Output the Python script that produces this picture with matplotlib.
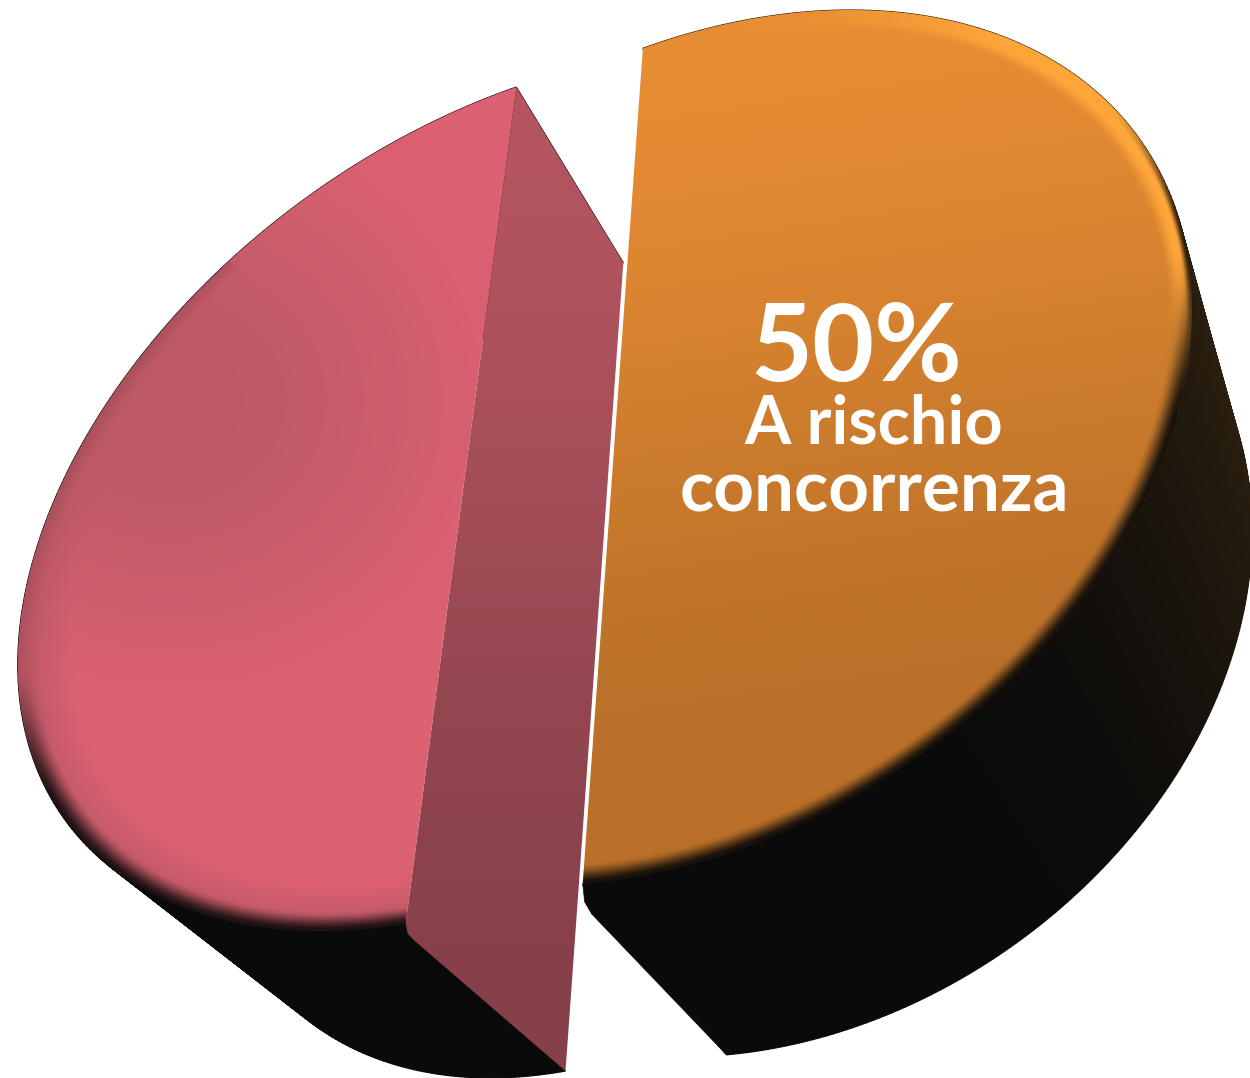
import numpy as np
import matplotlib
matplotlib.use("Agg")
import matplotlib.pyplot as plt
from matplotlib.colors import to_rgb
from matplotlib.patches import Polygon

# valori delle due fette
shares = [50, 50]
slice_names = ["A rischio\nconcorrenza", ""]
percent_label = "50%"

W, H = 1250, 1078

# geometria della torta in prospettiva (pixel)
orange_geo = dict(c=(693, 448), a=543.1, b=381.9, rot=-33.75, start=-70.6, stretch=1.103,
                  shift=(792, 632), kx=0.944, ky=0.97, shear=0.0887)
pink_geo = dict(c=(517, 491), a=559, b=361, rot=-36.1, start=128.1, stretch=0.928,
                shift=(643, 653), kx=0.88, ky=0.966, shear=0.0473)


def rim(geo, share):
    # bordo superiore della fetta, l'angolo viene dal valore
    sweep = share / sum(shares) * 360 * geo["stretch"]
    s = np.radians(np.linspace(geo["start"], geo["start"] + sweep, 240))
    th = np.radians(geo["rot"])
    u, v = geo["a"] * np.cos(s), geo["b"] * np.sin(s)
    x = geo["c"][0] + u * np.cos(th) - v * np.sin(th)
    y = geo["c"][1] + u * np.sin(th) + v * np.cos(th)
    return x, y, np.degrees(s)


def lower(geo, x, y):
    # stesso bordo, spostato in basso per lo spessore
    dx, dy = x - geo["c"][0], y - geo["c"][1]
    return geo["shift"][0] + geo["kx"] * dx + geo["shear"] * dy, geo["shift"][1] + geo["ky"] * dy


def ellipse_coords(geo):
    gx, gy = np.meshgrid(np.arange(W) + 0.5, np.arange(H) + 0.5)
    th = np.radians(geo["rot"])
    dx, dy = gx - geo["c"][0], gy - geo["c"][1]
    u = (dx * np.cos(th) + dy * np.sin(th)) / geo["a"]
    v = (-dx * np.sin(th) + dy * np.cos(th)) / geo["b"]
    return gx, gy, np.hypot(u, v), np.degrees(np.arctan2(v, u))


def smooth(e0, e1, t):
    t = np.clip((t - e0) / (e1 - e0), 0, 1)
    return t * t * (3 - 2 * t)


def mix(a, b, w):
    return a * (1 - w[..., None]) + b * w[..., None]


def col(name):
    return np.array(to_rgb(name))


def flat(name):
    return np.full((H, W, 3), col(name))


def draw_side(ax, x, y, xb, yb, colors):
    for i in range(len(x) - 1):
        ax.fill([x[i], x[i + 1], xb[i + 1], xb[i]], [y[i], y[i + 1], yb[i + 1], yb[i]],
                color=colors[i], lw=0.8)


fig = plt.figure(figsize=(W / 100, H / 100), dpi=100, facecolor="white")
ax = fig.add_axes([0, 0, 1, 1])

ox, oy, os_ = rim(orange_geo, shares[0])
px, py, ps_ = rim(pink_geo, shares[1])
oxb, oyb = lower(orange_geo, ox, oy)
pxb, pyb = lower(pink_geo, px, py)

# fianco arancione: marrone in alto a destra, nero verso il basso
w = smooth(5, 90, os_)
side_cols = [col("#2c200f") * (1 - t) + col("#0a0a0a") * t for t in w]
draw_side(ax, ox, oy, oxb, oyb, side_cols)
# spigolo arrotondato in basso
ax.fill([ox[-1], ox[-1] + 2, ox[-1] + 9, oxb[-1]], [oy[-1], oy[-1] + 18, oy[-1] + 30, oyb[-1]],
        color="#0a0a0a", lw=0.5)

# faccia arancione
gx, gy, r, ang = ellipse_coords(orange_geo)
img = mix(flat("#E78D33"), flat("#BA7029"), smooth(30, 800, gy + 0.15 * (gx - 600)))
bright = smooth(-60, -20, ang) * (1 - smooth(15, 45, ang))
dark = smooth(15, 40, ang)
img = mix(img, flat("#FFA63B"), smooth(0.95, 0.98, r) * bright)
img = mix(img, flat("#15100a"), smooth(0.95, 1.0, r) * dark)
img = mix(img, flat("#2a1c0c"), smooth(0.985, 1.0, r) * smooth(-10, 15, ang) * (1 - dark))
face = ax.imshow(img, extent=(0, W, H, 0), aspect="auto", zorder=2)
face.set_clip_path(Polygon(np.column_stack([ox, oy]), closed=True, transform=ax.transData))

# fianco rosa (solo nero)
draw_side(ax, px, py, pxb, pyb, ["#0a0a0a"] * len(px))

# taglio rosa
cut = np.array([[px[-1], py[-1]], [pxb[-1], pyb[-1]], [pxb[0], pyb[0]],
                [px[0] + 10, py[0] + 18], [px[0] + 2, py[0] + 10], [px[0], py[0]]])
img = mix(flat("#B45560"), flat("#86404A"), smooth(90, 1070, np.arange(H)[:, None] * np.ones((H, W))))
face = ax.imshow(img, extent=(0, W, H, 0), aspect="auto", zorder=3)
face.set_clip_path(Polygon(cut, closed=True, transform=ax.transData))

# faccia rosa
gx, gy, r, ang = ellipse_coords(pink_geo)
img = flat("#DC6172")
d = np.hypot((gx - 170) / 330, (gy - 400) / 300)
img = mix(img, flat("#BE5A66"), 1 - smooth(0.1, 1.2, d))
on_left = np.where(ang > 0, smooth(100, 125, ang), 1 - smooth(-178, -150, ang))
img = mix(img, flat("#B85765"), smooth(0.88, 0.97, r) * 0.6 * np.where(ang > 0, smooth(100, 125, ang),
                                                                       1 - smooth(-150, -100, ang)))
faint = 0.12 * ((ang < -100) * 1.0)
img = mix(img, flat("#1c1011"), smooth(0.955, 1.0, r) * np.maximum(on_left, faint))
face = ax.imshow(img, extent=(0, W, H, 0), aspect="auto", zorder=4)
face.set_clip_path(Polygon(np.column_stack([px, py]), closed=True, transform=ax.transData))

ax.set_xlim(0, W)
ax.set_ylim(H, 0)
ax.axis("off")

# etichette
ax.text(856, 350, percent_label, color="white", fontsize=77, fontweight="bold", family="Lato",
        ha="center", va="center", zorder=6)
first, second = slice_names[0].split("\n")
ax.text(874, 425, first, color="white", fontsize=48, fontweight="bold", family="Lato",
        ha="center", va="center", zorder=6)
ax.text(874, 491, second, color="white", fontsize=51, fontweight="bold", family="Lato",
        ha="center", va="center", zorder=6)

fig.savefig("out.png", dpi=100, facecolor="white")
